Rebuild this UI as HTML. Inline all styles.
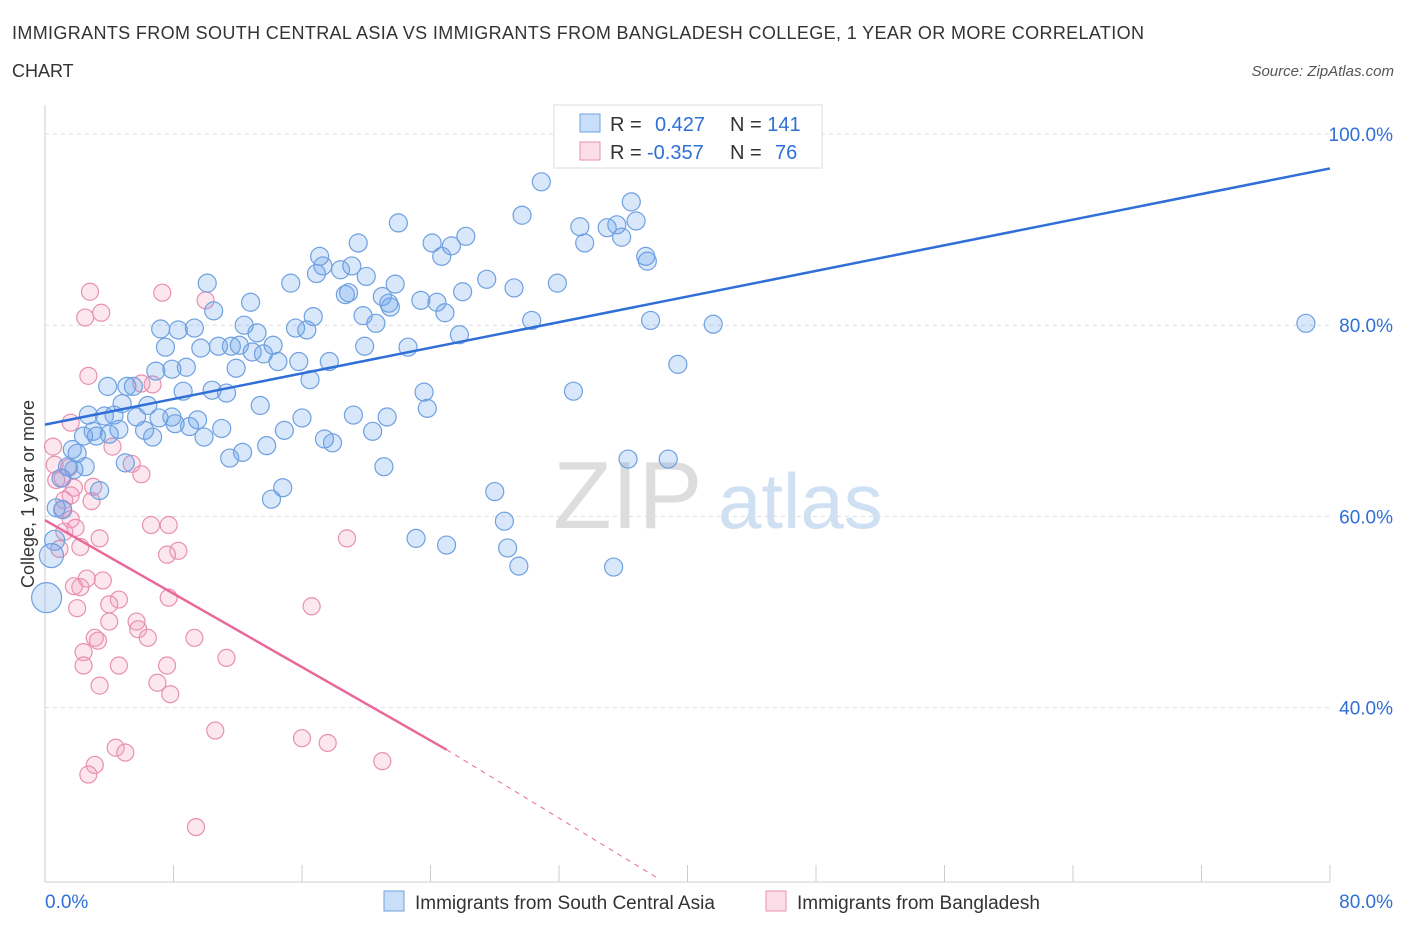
<!DOCTYPE html>
<html><head><meta charset="utf-8"><style>
body{margin:0;background:#fff;font-family:"Liberation Sans",sans-serif;}
svg text{font-family:"Liberation Sans",sans-serif;}
</style></head><body>
<svg id="chart" width="1406" height="930">
<text x="12" y="39" font-size="18" fill="#333" textLength="1132" lengthAdjust="spacing">IMMIGRANTS FROM SOUTH CENTRAL ASIA VS IMMIGRANTS FROM BANGLADESH COLLEGE, 1 YEAR OR MORE CORRELATION</text>
<text x="12" y="77" font-size="18" fill="#333">CHART</text>
<text x="1394" y="76" font-size="15" fill="#555" font-style="italic" text-anchor="end">Source: ZipAtlas.com</text>
<text x="553" y="528" font-size="96" fill="#ddd" font-family="Liberation Serif">ZIP</text>
<text x="718" y="528" font-size="78" fill="#cfe0f3">atlas</text>
<text transform="translate(34,494) rotate(-90)" font-size="18" fill="#333" text-anchor="middle">College, 1 year or more</text>
<g id="grid"></g><g id="pts"></g><g id="lines"></g>
<g>
<rect x="554" y="105" width="268" height="63" fill="#fff" stroke="#ddd"/>
<rect x="580" y="114" width="20" height="18" fill="rgba(100,160,235,0.35)" stroke="#6fa0e0"/>
<rect x="580" y="142" width="20" height="18" fill="rgba(245,160,190,0.35)" stroke="#e890b0"/>
<text x="610" y="131" font-size="20" fill="#333">R = <tspan fill="#2f6fd6" x="655">0.427</tspan><tspan x="730" fill="#333">N = </tspan><tspan fill="#2f6fd6">141</tspan></text>
<text x="610" y="159" font-size="20" fill="#333">R = <tspan fill="#2f6fd6" x="647">-0.357</tspan><tspan x="730" fill="#333">N = </tspan><tspan fill="#2f6fd6" x="775">76</tspan></text>
</g>
<g>
<rect x="384" y="891" width="20" height="20" fill="rgba(100,160,235,0.35)" stroke="#6fa0e0"/>
<text x="415" y="909" font-size="19" fill="#333">Immigrants from South Central Asia</text>
<rect x="766" y="891" width="20" height="20" fill="rgba(245,160,190,0.35)" stroke="#e890b0"/>
<text x="797" y="909" font-size="19" fill="#333">Immigrants from Bangladesh</text>
</g>
</svg>
<script>
const yTicks=[40,60,80,100];
const xTickLabels=["0.0%","80.0%"];
const blueX=[30.9,29.7,36.5,22.0,33.3,35.0,35.6,36.8,33.6,35.9,26.2,24.1,25.3,24.7,19.5,17.1,17.3,19.1,18.4,20.0,16.9,37.4,37.5,27.5,29.2,31.9,26.0,21.8,15.3,10.1,18.9,18.7,21.0,21.4,21.5,23.4,24.4,24.9,12.8,10.5,19.8,20.6,16.7,15.6,16.3,30.3,37.7,41.6,78.5,7.2,8.3,9.3,12.4,13.2,7.5,9.7,10.8,11.6,12.1,14.2,12.9,13.6,19.9,22.6,25.8,14.5,15.8,17.7,6.9,7.9,8.8,11.9,16.5,39.4,3.9,5.1,5.5,8.6,10.4,11.3,23.6,32.9,4.8,6.4,13.4,23.8,2.7,3.7,4.3,5.7,7.1,7.9,9.5,16.0,19.2,21.3,3.0,4.6,6.2,6.7,8.1,9.0,11.0,2.4,3.2,4.0,9.9,14.9,20.4,17.4,17.9,1.7,2.0,11.5,12.3,13.8,5.0,1.4,1.8,2.5,21.1,36.3,38.8,1.0,3.4,14.8,14.1,28.0,0.7,1.1,28.6,23.1,25.0,28.8,29.5,35.4,0.4,0.1,0.6];
const blueY=[95.0,91.5,92.9,90.7,90.3,90.2,90.5,90.9,88.6,89.2,89.3,88.6,88.3,87.2,88.6,87.2,86.2,86.2,85.8,85.1,85.4,87.2,86.7,84.8,83.9,84.4,83.5,84.3,84.4,84.4,83.4,83.2,83.0,82.3,81.9,82.6,82.4,81.3,82.4,81.5,81.0,80.2,80.9,79.7,79.5,80.5,80.5,80.1,80.2,79.6,79.5,79.7,80.0,79.2,77.7,77.6,77.8,77.8,77.9,77.9,77.2,77.0,77.8,77.7,79.0,76.2,76.2,76.2,75.2,75.4,75.6,75.5,74.3,75.9,73.6,73.6,73.6,73.1,73.2,72.9,73.0,73.1,71.8,71.6,71.6,71.3,70.6,70.5,70.6,70.4,70.3,70.4,70.1,70.3,70.6,70.4,68.9,69.1,69.0,68.3,69.7,69.4,69.2,68.4,68.4,68.6,68.3,69.0,68.9,68.1,67.7,67.0,66.6,66.1,66.7,67.4,65.6,65.2,64.9,65.2,65.2,66.0,66.0,64.0,62.7,63.0,61.8,62.6,60.9,60.7,59.5,57.7,57.0,56.7,54.8,54.7,55.9,51.5,57.5];
const blueR=blueX.map((_,i)=>i==blueX.length-3?12:i==blueX.length-2?15:i==blueX.length-1?10:9);
const pinkX=[2.8,3.5,2.5,7.3,10.0,2.7,6.7,6.0,1.6,4.2,0.5,5.4,6.0,0.6,1.5,1.1,0.7,3.0,1.8,1.6,1.2,2.9,1.1,1.6,1.2,1.9,6.6,7.7,3.4,18.8,2.2,0.9,8.3,7.6,2.6,3.6,2.2,1.8,4.6,7.7,4.0,2.0,16.6,4.0,5.7,5.8,6.4,3.1,3.3,9.3,2.4,2.4,4.6,7.6,11.3,7.0,3.4,7.8,10.6,16.0,17.6,4.4,5.0,3.1,2.7,21.0,9.4];
const pinkY=[83.5,81.3,80.8,83.4,82.6,74.7,73.8,73.9,69.8,67.3,67.3,65.5,64.4,65.4,65.1,64.0,63.8,63.1,63.0,62.2,61.7,61.6,60.8,59.7,58.4,58.8,59.1,59.1,57.7,57.7,56.8,56.6,56.4,56.0,53.5,53.3,52.6,52.7,51.3,51.5,50.8,50.4,50.6,49.0,49.0,48.2,47.3,47.3,47.0,47.3,45.8,44.4,44.4,44.4,45.2,42.6,42.3,41.4,37.6,36.8,36.3,35.8,35.3,34.0,33.0,34.4,27.5];
const blueLine=[[0,69.6],[80,96.4]];
const pinkLine=[[0,59.6],[25,35.6]];
const pinkDash=[[25,35.6],[38.3,22.0]];
const X=v=>45+v*1285/80, Y=v=>134+(100-v)*9.56;
const NS="http://www.w3.org/2000/svg";
function mk(t,a,p){const e=document.createElementNS(NS,t);for(const k in a)e.setAttribute(k,a[k]);p.appendChild(e);return e;}
const grid=document.getElementById('grid');
yTicks.forEach(t=>{
const l=mk('line',{x1:45,x2:1330,y1:Y(t),y2:Y(t),stroke:'#ddd','stroke-dasharray':'4,4'},grid);


const tx=mk('text',{x:1393,y:Y(t)+7,'font-size':19,fill:'#2f6fd6','text-anchor':'end'},grid);tx.textContent=t.toFixed(1)+'%';


});
const ax=mk('line',{x1:45,x2:45,y1:105,y2:882,stroke:'#ccc'},grid);


const bx=mk('line',{x1:45,x2:1330,y1:882,y2:882,stroke:'#ccc'},grid);


for(let i=0;i<=10;i++){const l=mk('line',{x1:X(i*8),x2:X(i*8),y1:865,y2:882,stroke:'#ccc'},grid);

}
[[0,'start',45],[80,'end',1393]].forEach((d,i)=>{const t=mk('text',{x:d[2],y:908,'font-size':19,fill:'#2f6fd6','text-anchor':d[1]},grid);t.textContent=xTickLabels[i];

});
const pts=document.getElementById('pts');
pinkX.forEach((x,i)=>{const c=mk('circle',{cx:X(x),cy:Y(pinkY[i]),r:8.5,fill:'rgba(245,160,190,0.25)',stroke:'#e890b0','stroke-width':1.2},pts);

});
blueX.forEach((x,i)=>{const c=mk('circle',{cx:X(x),cy:Y(blueY[i]),r:blueR[i],fill:'rgba(100,160,235,0.25)',stroke:'#6fa0e0','stroke-width':1.2},pts);

});
const lines=document.getElementById('lines');
const b=mk('line',{x1:X(blueLine[0][0]),y1:Y(blueLine[0][1]),x2:X(blueLine[1][0]),y2:Y(blueLine[1][1]),stroke:'#2f6fd6','stroke-width':2.5},lines);


const p=mk('line',{x1:X(pinkLine[0][0]),y1:Y(pinkLine[0][1]),x2:X(pinkLine[1][0]),y2:Y(pinkLine[1][1]),stroke:'#e8699a','stroke-width':2.5},lines);


const pd=mk('line',{x1:X(pinkDash[0][0]),y1:Y(pinkDash[0][1]),x2:X(pinkDash[1][0]),y2:Y(pinkDash[1][1]),stroke:'#e8699a','stroke-width':1,'stroke-dasharray':'5,5'},lines);


</script>
</body></html>
